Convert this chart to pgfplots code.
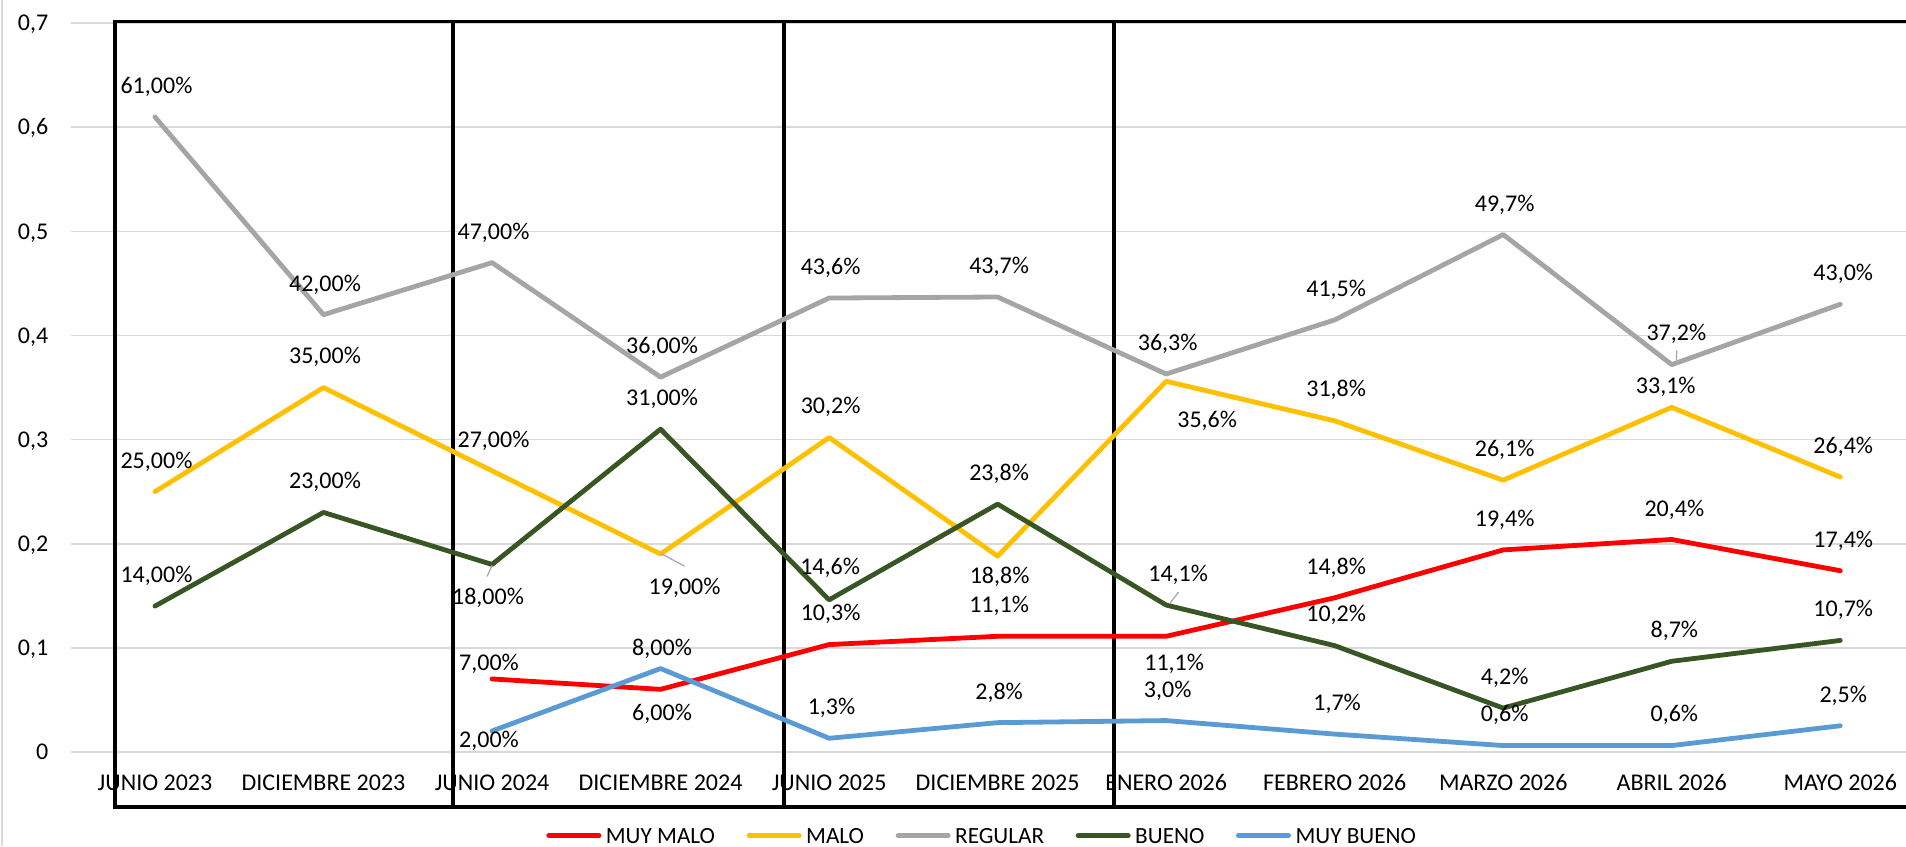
\documentclass[border=0pt]{standalone}
\usepackage{fontspec}
\setmainfont{Carlito}
\usepackage{pgfplots}
\pgfplotsset{compat=1.18}
\definecolor{cMM}{HTML}{FF0000}
\definecolor{cM}{HTML}{FFC000}
\definecolor{cR}{HTML}{A5A5A5}
\definecolor{cB}{HTML}{375623}
\definecolor{cMB}{HTML}{5B9BD5}
\definecolor{gridc}{HTML}{D9D9D9}
\begin{document}
\begin{tikzpicture}[font=\fontsize{12}{14}\selectfont,
  lbl/.style={anchor=center, inner sep=0pt, text height=7.6pt, text depth=0pt, font=\fontsize{12}{14}\selectfont},
  lead/.style={draw=cR, line width=0.6pt}]
\begin{axis}[
  scale only axis, width=917.5pt, height=364.2pt,
  xmin=-0.5, xmax=10.39, ymin=0, ymax=0.7,
  clip=false,
  axis line style={draw=none},
  major tick length=0pt,
  ytick={0,0.1,0.2,0.3,0.4,0.5,0.6,0.7},
  ymajorgrids, grid style={draw=gridc, line width=0.9pt},
  xtick={0,1,2,3,4,5,6,7,8,9,10},
  xticklabels={JUNIO 2023, DICIEMBRE 2023, JUNIO 2024, DICIEMBRE 2024, JUNIO 2025, DICIEMBRE 2025, ENERO 2026, FEBRERO 2026, MARZO 2026, ABRIL 2026, MAYO 2026},
  xticklabel style={anchor=north, inner sep=0pt, yshift=-11.65pt, text height=7.7pt, text depth=0pt},
  yticklabel style={anchor=east, inner sep=0pt, xshift=-11pt, text height=7.6pt, text depth=0pt},
  /pgf/number format/.cd, use comma, fixed, precision=1, assume math mode=true,
  /pgfplots/.cd,
  legend columns=5,
  legend style={draw=none, fill=none, at={(0.4961,-0.1150)}, anchor=center, inner sep=0pt, outer sep=0pt,
    column sep=0pt, font=\fontsize{11.6}{13}\selectfont,
    /tikz/every odd column/.append style={column sep=2.25pt},
    /tikz/every even column/.append style={column sep=15.8pt},
    nodes={inner sep=0pt, text height=7.5pt, text depth=0pt}},
  legend image code/.code={\draw[#1, line width=2.5pt, line cap=round] (1.25pt,0pt) -- (26.25pt,0pt);},
  every axis plot/.append style={line width=2.4pt, line join=round, line cap=round},
]
% group boxes
\draw[black, line width=1.7pt] (axis cs:-0.237,-0.0529) rectangle (axis cs:1.769,0.7015);
\draw[black, line width=1.7pt] (axis cs:1.769,-0.0529) rectangle (axis cs:3.732,0.7015);
\draw[black, line width=1.7pt] (axis cs:3.732,-0.0529) rectangle (axis cs:5.690,0.7015);
\draw[black, line width=1.7pt] (axis cs:5.690,-0.0529) rectangle (axis cs:10.8,0.7015);

\addplot[cMM] coordinates {(2,0.07) (3,0.06) (4,0.103) (5,0.111) (6,0.111) (7,0.148) (8,0.194) (9,0.204) (10,0.174)};
\addlegendentry{MUY MALO}
\addplot[cM] coordinates {(0,0.25) (1,0.35) (2,0.27) (3,0.19) (4,0.302) (5,0.188) (6,0.356) (7,0.318) (8,0.261) (9,0.331) (10,0.264)};
\addlegendentry{MALO}
\addplot[cR] coordinates {(0,0.61) (1,0.42) (2,0.47) (3,0.36) (4,0.436) (5,0.437) (6,0.363) (7,0.415) (8,0.497) (9,0.372) (10,0.43)};
\addlegendentry{REGULAR}
\addplot[cB] coordinates {(0,0.14) (1,0.23) (2,0.18) (3,0.31) (4,0.146) (5,0.238) (6,0.141) (7,0.102) (8,0.042) (9,0.087) (10,0.107)};
\addlegendentry{BUENO}
\addplot[cMB] coordinates {(2,0.02) (3,0.08) (4,0.013) (5,0.028) (6,0.03) (7,0.017) (8,0.006) (9,0.006) (10,0.025)};
\addlegendentry{MUY BUENO}

% leader lines
\draw[lead] (axis cs:3,0.19) ++(0.75pt,0pt) -- ++(11.25pt,-6.1pt);
\draw[lead] (axis cs:2,0.18) ++(0pt,-0.5pt) -- ++(-2.5pt,-5.5pt);
\draw[lead] (axis cs:6,0.141) ++(1.75pt,0.65pt) -- ++(4.45pt,5.85pt);
\draw[lead] (axis cs:9,0.372) ++(2.3pt,2pt) -- ++(0.2pt,5pt);

% REGULAR labels
\node[lbl, xshift=0.75pt, yshift=15.5pt] at (axis cs:0,0.61) {61,00\%};
\node[lbl, xshift=0.75pt, yshift=15.5pt] at (axis cs:1,0.42) {42,00\%};
\node[lbl, xshift=0.75pt, yshift=15.5pt] at (axis cs:2,0.47) {47,00\%};
\node[lbl, xshift=0.75pt, yshift=15.5pt] at (axis cs:3,0.36) {36,00\%};
\node[lbl, xshift=0.75pt, yshift=15.5pt] at (axis cs:4,0.436) {43,6\%};
\node[lbl, xshift=0.75pt, yshift=15.5pt] at (axis cs:5,0.437) {43,7\%};
\node[lbl, xshift=0.75pt, yshift=15.5pt] at (axis cs:6,0.363) {36,3\%};
\node[lbl, xshift=0.75pt, yshift=15.5pt] at (axis cs:7,0.415) {41,5\%};
\node[lbl, xshift=0.75pt, yshift=15.5pt] at (axis cs:8,0.497) {49,7\%};
\node[lbl, xshift=2.3pt, yshift=16pt] at (axis cs:9,0.372) {37,2\%};
\node[lbl, xshift=1.5pt, yshift=15.8pt] at (axis cs:10,0.43) {43,0\%};
% MALO labels
\node[lbl, xshift=0.75pt, yshift=15.5pt] at (axis cs:0,0.25) {25,00\%};
\node[lbl, xshift=0.75pt, yshift=16pt] at (axis cs:1,0.35) {35,00\%};
\node[lbl, xshift=0.75pt, yshift=15.5pt] at (axis cs:2,0.27) {27,00\%};
\node[lbl, xshift=12pt, yshift=-16.5pt] at (axis cs:3,0.19) {19,00\%};
\node[lbl, xshift=0.75pt, yshift=15.8pt] at (axis cs:4,0.302) {30,2\%};
\node[lbl, xshift=1pt, yshift=-9.7pt] at (axis cs:5,0.188) {18,8\%};
\node[lbl, xshift=20.5pt, yshift=-19.5pt] at (axis cs:6,0.356) {35,6\%};
\node[lbl, xshift=0.75pt, yshift=15.8pt] at (axis cs:7,0.318) {31,8\%};
\node[lbl, xshift=0.75pt, yshift=15.8pt] at (axis cs:8,0.261) {26,1\%};
\node[lbl, xshift=-3pt, yshift=10.8pt] at (axis cs:9,0.331) {33,1\%};
\node[lbl, xshift=1.5pt, yshift=15.7pt] at (axis cs:10,0.264) {26,4\%};
% BUENO labels
\node[lbl, xshift=0.75pt, yshift=15.8pt] at (axis cs:0,0.14) {14,00\%};
\node[lbl, xshift=0.75pt, yshift=15.8pt] at (axis cs:1,0.23) {23,00\%};
\node[lbl, xshift=-2pt, yshift=-16pt] at (axis cs:2,0.18) {18,00\%};
\node[lbl, xshift=0.75pt, yshift=15.5pt] at (axis cs:3,0.31) {31,00\%};
\node[lbl, xshift=0.5pt, yshift=16.3pt] at (axis cs:4,0.146) {14,6\%};
\node[lbl, xshift=0.75pt, yshift=15.5pt] at (axis cs:5,0.238) {23,8\%};
\node[lbl, xshift=6pt, yshift=15.5pt] at (axis cs:6,0.141) {14,1\%};
\node[lbl, xshift=0.75pt, yshift=15.8pt] at (axis cs:7,0.102) {10,2\%};
\node[lbl, xshift=0.75pt, yshift=15.8pt] at (axis cs:8,0.042) {4,2\%};
\node[lbl, xshift=1.3pt, yshift=15.7pt] at (axis cs:9,0.087) {8,7\%};
\node[lbl, xshift=1.5pt, yshift=15.8pt] at (axis cs:10,0.107) {10,7\%};
% MUY MALO labels
\node[lbl, xshift=-1.5pt, yshift=7.8pt] at (axis cs:2,0.07) {7,00\%};
\node[lbl, xshift=0.75pt, yshift=-12pt] at (axis cs:3,0.06) {6,00\%};
\node[lbl, xshift=0.75pt, yshift=15.7pt] at (axis cs:4,0.103) {10,3\%};
\node[lbl, xshift=0.75pt, yshift=15.5pt] at (axis cs:5,0.111) {11,1\%};
\node[lbl, xshift=4pt, yshift=-13.5pt] at (axis cs:6,0.111) {11,1\%};
\node[lbl, xshift=0.75pt, yshift=15.5pt] at (axis cs:7,0.148) {14,8\%};
\node[lbl, xshift=0.75pt, yshift=15.5pt] at (axis cs:8,0.194) {19,4\%};
\node[lbl, xshift=1.3pt, yshift=15.5pt] at (axis cs:9,0.204) {20,4\%};
\node[lbl, xshift=1.5pt, yshift=15.5pt] at (axis cs:10,0.174) {17,4\%};
% MUY BUENO labels
\node[lbl, xshift=-1.5pt, yshift=-4.3pt] at (axis cs:2,0.02) {2,00\%};
\node[lbl, xshift=0.75pt, yshift=10.2pt] at (axis cs:3,0.08) {8,00\%};
\node[lbl, xshift=1.2pt, yshift=15.6pt] at (axis cs:4,0.013) {1,3\%};
\node[lbl, xshift=0.75pt, yshift=15.5pt] at (axis cs:5,0.028) {2,8\%};
\node[lbl, xshift=0.75pt, yshift=15.5pt] at (axis cs:6,0.03) {3,0\%};
\node[lbl, xshift=1.2pt, yshift=15.7pt] at (axis cs:7,0.017) {1,7\%};
\node[lbl, xshift=0.75pt, yshift=15.9pt] at (axis cs:8,0.006) {0,6\%};
\node[lbl, xshift=1.3pt, yshift=15.9pt] at (axis cs:9,0.006) {0,6\%};
\node[lbl, xshift=1.5pt, yshift=15.6pt] at (axis cs:10,0.025) {2,5\%};
\end{axis}
\draw[gridc, line width=1pt] ([xshift=-34.3pt,yshift=-47.15pt]current axis.south west) -- ([xshift=-34.3pt,yshift=11.65pt]current axis.north west);
\pgfresetboundingbox
\path[use as bounding box] ([xshift=-35.35pt,yshift=-47.15pt]current axis.south west) rectangle ([yshift=11.65pt]current axis.north east);
\end{tikzpicture}
\end{document}
